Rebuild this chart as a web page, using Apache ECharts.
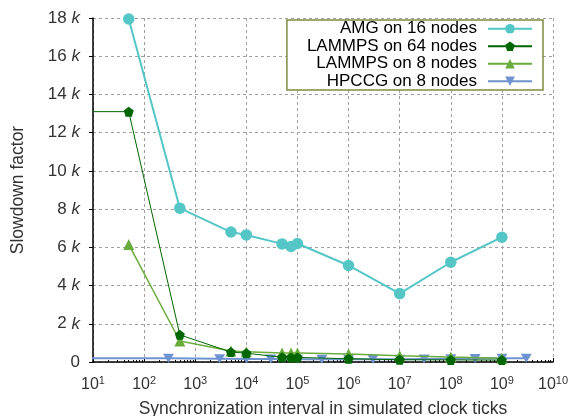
<!DOCTYPE html>
<html><head><meta charset="utf-8">
<script src="https://cdn.jsdelivr.net/npm/echarts@6/dist/echarts.min.js"></script>
<style>html,body{margin:0;padding:0;background:#fff}#c{width:572px;height:416px}</style>
</head><body><div id="c"></div>
<script>
var seriesNames = ['AMG on 16 nodes', 'LAMMPS on 64 nodes', 'LAMMPS on 8 nodes', 'HPCCG on 8 nodes'];
var amgX = [50, 500, 5000, 10000, 50000, 75000, 100000, 1e6, 1e7, 1e8, 1e9];
var amgY = [17950, 8050, 6800, 6650, 6180, 6050, 6200, 5050, 3580, 5220, 6530];
var lammps64X = [1, 50, 500, 5000, 10000, 50000, 75000, 100000, 1e6, 1e7, 1e8, 1e9];
var lammps64Y = [13100, 13100, 1420, 520, 460, 250, 240, 240, 170, 120, 110, 100];
var lammps8X = [50, 500, 5000, 10000, 50000, 75000, 100000, 1e6, 1e7, 1e8, 1e9];
var lammps8Y = [6150, 1100, 580, 530, 470, 470, 470, 420, 330, 260, 200];
var hpccgX = [1, 300, 3000, 1e4, 3e4, 1e5, 3e5, 1e6, 3e6, 1e7, 3e7, 1e8, 3e8, 1e9, 3e9];
var hpccgY = [200, 190, 170, 160, 160, 150, 150, 150, 150, 150, 160, 170, 180, 190, 200];

function pairs(xs, ys) { return xs.map(function (x, i) { return [x, ys[i]]; }); }
var pentagon = 'path://M0,-1 L0.951,-0.309 L0.588,0.809 L-0.588,0.809 L-0.951,-0.309 Z';
var font = 'Liberation Sans, Arial, sans-serif';
var txt = '#333';

var chart = echarts.init(document.getElementById('c'));
chart.setOption({
  animation: false,
  textStyle: { fontFamily: font },
  grid: { left: 93, right: 19, top: 18, bottom: 54, containLabel: false, outerBoundsMode: 'none' },
  legend: {
    orient: 'vertical', right: 29, top: 20, align: 'right',
    data: seriesNames,
    backgroundColor: '#fff', borderColor: '#7f8a3f', borderWidth: 1.5, borderRadius: 0,
    padding: [0, 10, 0, 20], itemGap: 0, itemWidth: 44, itemHeight: 12,
    textStyle: { fontSize: 17, color: '#000', fontFamily: font, lineHeight: 17.5, padding: [0, 6, 0, 0] }
  },
  xAxis: {
    type: 'log', logBase: 10, min: 10, max: 1e10,
    name: 'Synchronization interval in simulated clock ticks',
    nameLocation: 'middle', nameGap: 37,
    nameTextStyle: { fontSize: 17.5, color: txt, fontFamily: font },
    axisLine: { lineStyle: { color: '#000', width: 1.5 } },
    axisTick: { show: true, inside: true, length: 4, lineStyle: { color: '#000' } },
    minorTick: { show: true, splitNumber: 9, length: 2, lineStyle: { color: '#000' } },
    splitLine: { show: true, lineStyle: { color: '#a0a0a0', type: [3, 3], width: 1 } },
    axisLabel: {
      margin: 13, color: txt,
      formatter: function (v) { return '{b|10}{s|' + Math.round(Math.log10(v)) + '}'; },
      rich: {
        b: { fontSize: 16, fontFamily: font, color: txt, lineHeight: 18, verticalAlign: 'bottom' },
        s: { fontSize: 11, fontFamily: font, color: txt, lineHeight: 18, verticalAlign: 'top', padding: [0, 0, 9, 0] }
      }
    }
  },
  yAxis: {
    type: 'value', min: 0, max: 18000, interval: 2000,
    name: 'Slowdown factor', nameLocation: 'middle', nameGap: 66,
    nameTextStyle: { fontSize: 17.5, color: txt, fontFamily: font },
    axisLine: { show: true, lineStyle: { color: '#000', width: 1.5 } },
    axisTick: { show: true, length: 4, lineStyle: { color: '#000' } },
    splitLine: { show: true, lineStyle: { color: '#a0a0a0', type: [3, 3], width: 1 } },
    axisLabel: {
      margin: 13, color: txt,
      formatter: function (v) { return v === 0 ? '{n|0}' : '{n|' + (v / 1000) + ' }{k|k}'; },
      rich: {
        n: { fontSize: 17, fontFamily: font, color: txt },
        k: { fontSize: 17, fontFamily: font, color: txt, fontStyle: 'italic' }
      }
    }
  },
  series: [
    { name: seriesNames[0], type: 'line', data: pairs(amgX, amgY), symbol: 'circle', symbolSize: 11.5,
      itemStyle: { color: '#55c6c6' }, lineStyle: { color: '#55c6c6', width: 2 }, z: 5 },
    { name: seriesNames[1], type: 'line', data: pairs(lammps64X, lammps64Y), symbol: pentagon, symbolSize: 10,
      itemStyle: { color: '#006600' }, lineStyle: { color: '#006600', width: 1 }, z: 4 },
    { name: seriesNames[2], type: 'line', data: pairs(lammps8X, lammps8Y), symbol: 'triangle', symbolSize: 11,
      itemStyle: { color: '#6aac3c' }, lineStyle: { color: '#6aac3c', width: 1.5 }, z: 3 },
    { name: seriesNames[3], type: 'line', data: pairs(hpccgX, hpccgY), symbol: 'triangle', symbolRotate: 180, symbolSize: [11, 9],
      itemStyle: { color: '#6f93d0' }, lineStyle: { color: '#6f93d0', width: 2 }, z: 2 }
  ]
});
</script></body></html>
